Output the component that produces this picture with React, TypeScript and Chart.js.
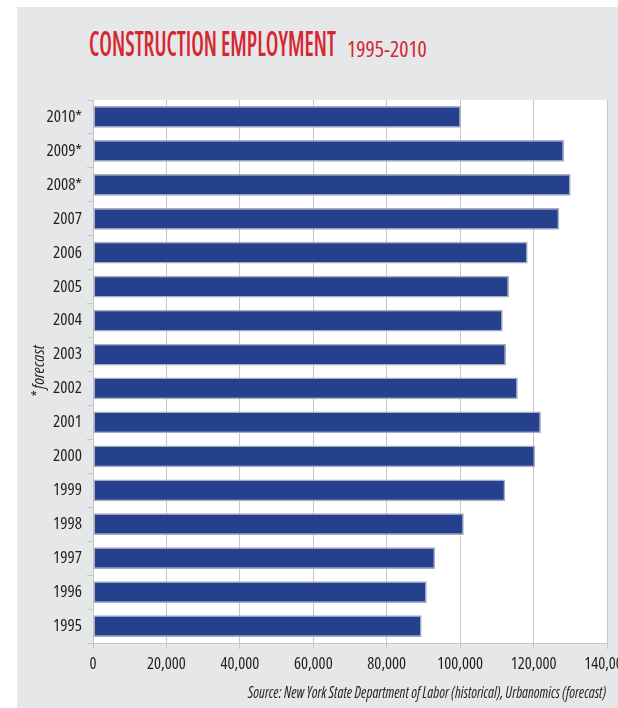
import React, { useEffect, useLayoutEffect, useRef } from "react";
import { Chart, registerables } from "chart.js";

Chart.register(...registerables);

const years: string[] = [
  "1995", "1996", "1997", "1998", "1999", "2000", "2001", "2002",
  "2003", "2004", "2005", "2006", "2007", "2008*", "2009*", "2010*",
];
const employment: number[] = [
  89500, 90900, 93200, 101000, 112300, 120400, 122000, 115700,
  112500, 111600, 113300, 118400, 127000, 130100, 128300, 100200,
];
const xMin = 0;
const xMax = 140000;
const xStep = 20000;

const titleMain = "CONSTRUCTION EMPLOYMENT";
const titleYears = "1995-2010";
const axisNote = "* forecast";
const sourceText =
  "Source: New York State Department of Labor (historical), Urbanomics (forecast)";

const CANVAS_FAMILY = "'Open Sans', 'DejaVu Sans Condensed', sans-serif";
const HTML_FAMILY = "'Open Sans', 'DejaVu Sans Condensed', sans-serif";

function FitText(props: {
  text: string;
  width: number;
  style: React.CSSProperties;
}) {
  const ref = useRef<HTMLSpanElement>(null);
  useLayoutEffect(() => {
    const el = ref.current;
    if (!el) return;
    el.style.transform = "none";
    const w = el.offsetWidth;
    if (w > 0) el.style.transform = `scaleX(${props.width / w})`;
  }, [props.text, props.width]);
  return (
    <span
      ref={ref}
      style={{
        position: "absolute",
        whiteSpace: "nowrap",
        transformOrigin: "left top",
        lineHeight: 1,
        ...props.style,
      }}
    >
      {props.text}
    </span>
  );
}

const plotBg = {
  id: "plotBg",
  beforeDraw(chart: any) {
    const { ctx, chartArea } = chart;
    if (!chartArea) return;
    ctx.save();
    ctx.fillStyle = "#ffffff";
    ctx.fillRect(
      chartArea.left,
      chartArea.top,
      chartArea.right - chartArea.left,
      chartArea.bottom - chartArea.top
    );
    ctx.restore();
  },
};

export default function App() {
  const canvasRef = useRef<HTMLCanvasElement>(null);

  useEffect(() => {
    const canvas = canvasRef.current;
    if (!canvas) return;
    const chart = new Chart(canvas, {
      type: "bar",
      data: {
        labels: years,
        datasets: [
          {
            data: employment,
            backgroundColor: "#25408d",
            borderColor: "#a9acc0",
            borderWidth: 1.5,
            borderSkipped: false,
            barPercentage: 0.64,
            categoryPercentage: 1,
          },
        ],
      },
      options: {
        indexAxis: "y",
        animation: false,
        responsive: false,
        maintainAspectRatio: false,
        layout: {
          autoPadding: false,
          padding: { left: 0, top: 100, right: 11, bottom: 35 },
        },
        plugins: {
          legend: { display: false },
          tooltip: { enabled: false },
          title: { display: false },
        },
        scales: {
          x: {
            min: xMin,
            max: xMax,
            ticks: {
              stepSize: xStep,
              padding: 5,
              color: "#231f20",
              font: { family: CANVAS_FAMILY, size: 16.5, weight: "condensed" as any },
              maxRotation: 0,
              callback: (v: any) => Number(v).toLocaleString("en-US"),
            },
            grid: {
              color: "#c6c6c6",
              lineWidth: 1,
              tickLength: 6,
            },
            border: { color: "#c6c6c6", width: 1 },
            afterFit: (scale: any) => {
              scale.height = 30;
              scale.paddingLeft = 0;
              scale.paddingRight = 0;
            },
          },
          y: {
            reverse: true,
            ticks: {
              padding: 5,
              color: "#231f20",
              font: { family: CANVAS_FAMILY, size: 17, weight: "condensed" as any },
            },
            grid: {
              drawOnChartArea: false,
              color: "#c6c6c6",
              tickLength: 6,
            },
            border: { color: "#c6c6c6", width: 1 },
            title: {
              display: true,
              text: axisNote,
              color: "#231f20",
              font: {
                family: CANVAS_FAMILY,
                size: 17,
                style: "italic",
                weight: "condensed" as any,
              },
              padding: { top: 29, bottom: 0 },
            },
            afterFit: (scale: any) => {
              scale.width = 93;
              scale.paddingTop = 0;
              scale.paddingBottom = 0;
            },
          },
        },
      },
      plugins: [plotBg],
    });
    return () => chart.destroy();
  }, []);

  return (
    <div
      style={{
        position: "absolute",
        left: 0,
        top: 0,
        width: 618,
        height: 708,
        background: "#ffffff",
        overflow: "hidden",
      }}
    >
      <div
        style={{
          position: "absolute",
          left: 17,
          top: 7,
          width: 601,
          height: 701,
          background: "#e6e7e9",
        }}
      />
      <FitText
        text={titleMain}
        width={247}
        style={{
          left: 89,
          top: 25,
          fontFamily: HTML_FAMILY,
          fontStretch: "ultra-condensed",
          fontWeight: 600,
          fontSize: 35,
          color: "#d52631",
        }}
      />
      <FitText
        text={titleYears}
        width={80}
        style={{
          left: 347,
          top: 36.5,
          fontFamily: HTML_FAMILY,
          fontStretch: "ultra-condensed",
          fontWeight: 400,
          fontSize: 22,
          color: "#d52631",
        }}
      />
      <canvas
        ref={canvasRef}
        width={618}
        height={708}
        style={{ position: "absolute", left: 0, top: 0, width: 618, height: 708 }}
      />
      <FitText
        text={sourceText}
        width={358}
        style={{
          left: 248,
          top: 683.5,
          fontFamily: HTML_FAMILY,
          fontStretch: "ultra-condensed",
          fontStyle: "italic",
          fontSize: 16,
          color: "#231f20",
        }}
      />
    </div>
  );
}
